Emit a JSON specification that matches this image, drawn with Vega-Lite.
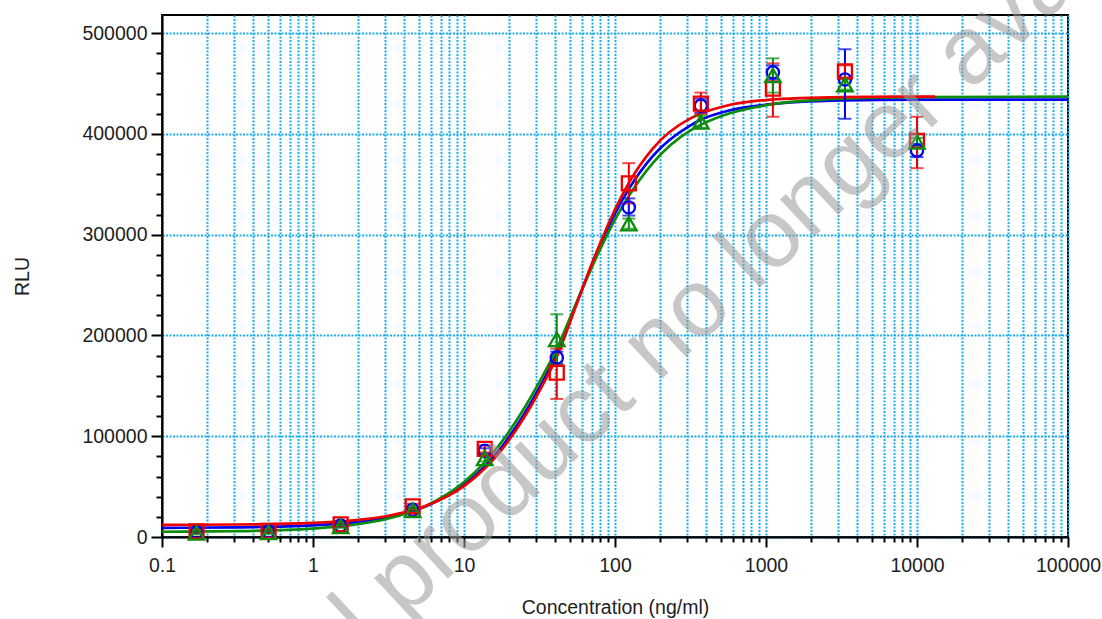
{
  "$schema": "https://vega.github.io/schema/vega-lite/v6.json",
  "autosize": {"type": "none"},
  "width": 906,
  "height": 522,
  "padding": {"left": 162, "top": 15, "right": 34, "bottom": 82},
  "background": "white",
  "config": {
    "view": {"stroke": "#000000", "strokeWidth": 2},
    "font": "Liberation Sans",
    "axis": {
      "domainColor": "#000000",
      "domainWidth": 2,
      "tickColor": "#000000",
      "tickWidth": 2,
      "labelFont": "Liberation Sans",
      "labelFontSize": 19.5,
      "labelColor": "#1e1e1e",
      "titleFont": "Liberation Sans",
      "titleFontSize": 19.5,
      "titleFontWeight": "normal",
      "titleColor": "#1e1e1e",
      "gridColor": "#19aeea",
      "gridDash": [2, 1.5],
      "gridWidth": 2
    }
  },
  "datasets": {
    "fit": [
      {"series": "Run 1", "conc": 0.1, "rlu": 9100},
      {"series": "Run 1", "conc": 0.3162, "rlu": 9600},
      {"series": "Run 1", "conc": 1, "rlu": 11500},
      {"series": "Run 1", "conc": 1.778, "rlu": 14200},
      {"series": "Run 1", "conc": 3.162, "rlu": 19600},
      {"series": "Run 1", "conc": 5.623, "rlu": 30600},
      {"series": "Run 1", "conc": 10, "rlu": 51800},
      {"series": "Run 1", "conc": 13.71, "rlu": 70100},
      {"series": "Run 1", "conc": 17.78, "rlu": 89600},
      {"series": "Run 1", "conc": 25.12, "rlu": 122400},
      {"series": "Run 1", "conc": 31.62, "rlu": 148500},
      {"series": "Run 1", "conc": 41.21, "rlu": 182000},
      {"series": "Run 1", "conc": 56.23, "rlu": 233700},
      {"series": "Run 1", "conc": 74.99, "rlu": 280400},
      {"series": "Run 1", "conc": 100, "rlu": 321000},
      {"series": "Run 1", "conc": 123.0, "rlu": 345000},
      {"series": "Run 1", "conc": 177.8, "rlu": 378000},
      {"series": "Run 1", "conc": 316.2, "rlu": 408500},
      {"series": "Run 1", "conc": 369.8, "rlu": 414000},
      {"series": "Run 1", "conc": 562.3, "rlu": 423000},
      {"series": "Run 1", "conc": 1000, "rlu": 429000},
      {"series": "Run 1", "conc": 3162, "rlu": 433200},
      {"series": "Run 1", "conc": 10000, "rlu": 434000},
      {"series": "Run 1", "conc": 100000, "rlu": 434000},

      {"series": "Run 3", "conc": 0.1, "rlu": 5200},
      {"series": "Run 3", "conc": 0.3162, "rlu": 5800},
      {"series": "Run 3", "conc": 1, "rlu": 8300},
      {"series": "Run 3", "conc": 1.778, "rlu": 11700},
      {"series": "Run 3", "conc": 3.162, "rlu": 18300},
      {"series": "Run 3", "conc": 5.623, "rlu": 31000},
      {"series": "Run 3", "conc": 10, "rlu": 54500},
      {"series": "Run 3", "conc": 13.71, "rlu": 74000},
      {"series": "Run 3", "conc": 17.78, "rlu": 94500},
      {"series": "Run 3", "conc": 25.12, "rlu": 128000},
      {"series": "Run 3", "conc": 31.62, "rlu": 154100},
      {"series": "Run 3", "conc": 41.21, "rlu": 187000},
      {"series": "Run 3", "conc": 56.23, "rlu": 234500},
      {"series": "Run 3", "conc": 74.99, "rlu": 277000},
      {"series": "Run 3", "conc": 100, "rlu": 315000},
      {"series": "Run 3", "conc": 123.0, "rlu": 338000},
      {"series": "Run 3", "conc": 177.8, "rlu": 371000},
      {"series": "Run 3", "conc": 316.2, "rlu": 403500},
      {"series": "Run 3", "conc": 369.8, "rlu": 409000},
      {"series": "Run 3", "conc": 562.3, "rlu": 420000},
      {"series": "Run 3", "conc": 1000, "rlu": 428500},
      {"series": "Run 3", "conc": 3162, "rlu": 435000},
      {"series": "Run 3", "conc": 10000, "rlu": 436600},
      {"series": "Run 3", "conc": 100000, "rlu": 437000},

      {"series": "Run 2", "conc": 0.1, "rlu": 12100},
      {"series": "Run 2", "conc": 0.3162, "rlu": 12400},
      {"series": "Run 2", "conc": 1, "rlu": 14000},
      {"series": "Run 2", "conc": 1.778, "rlu": 16300},
      {"series": "Run 2", "conc": 3.162, "rlu": 21100},
      {"series": "Run 2", "conc": 5.623, "rlu": 31000},
      {"series": "Run 2", "conc": 10, "rlu": 50500},
      {"series": "Run 2", "conc": 13.71, "rlu": 67900},
      {"series": "Run 2", "conc": 17.78, "rlu": 86700},
      {"series": "Run 2", "conc": 25.12, "rlu": 119000},
      {"series": "Run 2", "conc": 31.62, "rlu": 145100},
      {"series": "Run 2", "conc": 41.21, "rlu": 179000},
      {"series": "Run 2", "conc": 56.23, "rlu": 232800},
      {"series": "Run 2", "conc": 74.99, "rlu": 281800},
      {"series": "Run 2", "conc": 100, "rlu": 325000},
      {"series": "Run 2", "conc": 123.0, "rlu": 350900},
      {"series": "Run 2", "conc": 177.8, "rlu": 385400},
      {"series": "Run 2", "conc": 316.2, "rlu": 415400},
      {"series": "Run 2", "conc": 369.8, "rlu": 420000},
      {"series": "Run 2", "conc": 562.3, "rlu": 428400},
      {"series": "Run 2", "conc": 1000, "rlu": 433600},
      {"series": "Run 2", "conc": 3162, "rlu": 436500},
      {"series": "Run 2", "conc": 10000, "rlu": 437000},
      {"series": "Run 2", "conc": 13180, "rlu": 437000}
    ],
    "standards": [
      {"series": "Run 1", "conc": 0.1694, "rlu": 5000, "lo": 4000, "hi": 6000},
      {"series": "Run 1", "conc": 0.508, "rlu": 5500, "lo": 4500, "hi": 6500},
      {"series": "Run 1", "conc": 1.524, "rlu": 11500, "lo": 10000, "hi": 13000},
      {"series": "Run 1", "conc": 4.572, "rlu": 27000, "lo": 25000, "hi": 29000},
      {"series": "Run 1", "conc": 13.717, "rlu": 85500, "lo": 83000, "hi": 88000},
      {"series": "Run 1", "conc": 41.15, "rlu": 178000, "lo": 172000, "hi": 184000},
      {"series": "Run 1", "conc": 123.46, "rlu": 327000, "lo": 319000, "hi": 336000},
      {"series": "Run 1", "conc": 370.37, "rlu": 428000, "lo": 421000, "hi": 435000},
      {"series": "Run 1", "conc": 1111.1, "rlu": 461000, "lo": 454000, "hi": 468000},
      {"series": "Run 1", "conc": 3333.3, "rlu": 454000, "lo": 415000, "hi": 484000},
      {"series": "Run 1", "conc": 10000, "rlu": 383500, "lo": 377000, "hi": 390000},

      {"series": "Run 2", "conc": 0.1694, "rlu": 5500, "lo": 3500, "hi": 7500},
      {"series": "Run 2", "conc": 0.508, "rlu": 6000, "lo": 4000, "hi": 8000},
      {"series": "Run 2", "conc": 1.524, "rlu": 12500, "lo": 10500, "hi": 14500},
      {"series": "Run 2", "conc": 4.572, "rlu": 30500, "lo": 28000, "hi": 33000},
      {"series": "Run 2", "conc": 13.717, "rlu": 87500, "lo": 84000, "hi": 91000},
      {"series": "Run 2", "conc": 41.15, "rlu": 163000, "lo": 137000, "hi": 187000},
      {"series": "Run 2", "conc": 123.46, "rlu": 351000, "lo": 331000, "hi": 371000},
      {"series": "Run 2", "conc": 370.37, "rlu": 430000, "lo": 420000, "hi": 441000},
      {"series": "Run 2", "conc": 1111.1, "rlu": 445000, "lo": 417000, "hi": 470000},
      {"series": "Run 2", "conc": 3333.3, "rlu": 462000, "lo": 456000, "hi": 468000},
      {"series": "Run 2", "conc": 10000, "rlu": 393000, "lo": 366000, "hi": 417000},

      {"series": "Run 3", "conc": 0.1694, "rlu": 4000, "lo": 2500, "hi": 5500},
      {"series": "Run 3", "conc": 0.508, "rlu": 4500, "lo": 3000, "hi": 6000},
      {"series": "Run 3", "conc": 1.524, "rlu": 10500, "lo": 9000, "hi": 12000},
      {"series": "Run 3", "conc": 4.572, "rlu": 26500, "lo": 24500, "hi": 28500},
      {"series": "Run 3", "conc": 13.717, "rlu": 78000, "lo": 75000, "hi": 81000},
      {"series": "Run 3", "conc": 41.15, "rlu": 196000, "lo": 172000, "hi": 221000},
      {"series": "Run 3", "conc": 123.46, "rlu": 311000, "lo": 306000, "hi": 316000},
      {"series": "Run 3", "conc": 370.37, "rlu": 412000, "lo": 406000, "hi": 418000},
      {"series": "Run 3", "conc": 1111.1, "rlu": 458000, "lo": 441000, "hi": 475000},
      {"series": "Run 3", "conc": 3333.3, "rlu": 449000, "lo": 444000, "hi": 454000},
      {"series": "Run 3", "conc": 10000, "rlu": 392000, "lo": 388000, "hi": 396000}
    ],
    "stamp": [
      {"conc": 249.5, "rlu": 208300, "label": "Original product no longer available"}
    ]
  },
  "encoding": {
    "x": {
      "field": "conc",
      "type": "quantitative",
      "title": "Concentration (ng/ml)",
      "scale": {"type": "log", "domain": [0.1, 100000], "nice": false},
      "axis": {
        "values": [0.1, 0.2, 0.3, 0.4, 0.5, 0.6, 0.7, 0.8, 0.9,
                   1, 2, 3, 4, 5, 6, 7, 8, 9,
                   10, 20, 30, 40, 50, 60, 70, 80, 90,
                   100, 200, 300, 400, 500, 600, 700, 800, 900,
                   1000, 2000, 3000, 4000, 5000, 6000, 7000, 8000, 9000,
                   10000, 20000, 30000, 40000, 50000, 60000, 70000, 80000, 90000,
                   100000],
        "format": "~g",
        "labelExpr": "indexof([0.1, 1, 10, 100, 1000, 10000, 100000], datum.value) >= 0 ? datum.label : ''",
        "labelOverlap": false,
        "labelFlush": false,
        "labelPadding": 9,
        "tickSize": {"condition": {"test": "indexof([0.1, 1, 10, 100, 1000, 10000, 100000], datum.value) >= 0", "value": 10}, "value": 5},
        "grid": true,
        "titlePadding": 24
      }
    },
    "y": {
      "field": "rlu",
      "type": "quantitative",
      "title": "RLU",
      "scale": {"domain": [0, 518000], "nice": false, "zero": false},
      "axis": {
        "values": [0, 20000, 40000, 60000, 80000, 100000, 120000, 140000, 160000, 180000,
                   200000, 220000, 240000, 260000, 280000, 300000, 320000, 340000, 360000, 380000,
                   400000, 420000, 440000, 460000, 480000, 500000],
        "format": "d",
        "labelExpr": "datum.value % 100000 === 0 ? datum.label : ''",
        "labelOverlap": false,
        "labelPadding": 4,
        "tickSize": {"condition": {"test": "datum.value % 100000 === 0", "value": 11}, "value": 6},
        "grid": true,
        "gridOpacity": {"condition": {"test": "datum.value % 100000 === 0", "value": 1}, "value": 0},
        "titlePadding": 49
      }
    }
  },
  "layer": [
    {
      "data": {"name": "fit"},
      "mark": {"type": "line", "strokeWidth": 2.7, "interpolate": "monotone", "clip": true},
      "encoding": {
        "color": {
          "field": "series",
          "type": "nominal",
          "scale": {"domain": ["Run 1", "Run 2", "Run 3"], "range": ["#0000ee", "#ee0000", "#0c8c0c"]},
          "legend": null
        }
      }
    },
    {
      "data": {"name": "standards"},
      "transform": [{"fold": ["lo", "hi"], "as": ["end", "rlu"]}],
      "mark": {"type": "line", "strokeWidth": 2},
      "encoding": {
        "color": {"field": "series", "type": "nominal", "legend": null},
        "detail": {"field": "conc", "type": "nominal"}
      }
    },
    {
      "data": {"name": "standards"},
      "transform": [{"fold": ["lo", "hi"], "as": ["end", "rlu"]}],
      "mark": {"type": "tick", "orient": "horizontal", "size": 13, "thickness": 2},
      "encoding": {
        "color": {"field": "series", "type": "nominal", "legend": null}
      }
    },
    {
      "data": {"name": "standards"},
      "mark": {"type": "point", "filled": false, "strokeWidth": 2.3, "opacity": 1},
      "encoding": {
        "color": {"field": "series", "type": "nominal", "legend": null},
        "shape": {
          "field": "series",
          "type": "nominal",
          "scale": {"domain": ["Run 1", "Run 2", "Run 3"], "range": ["circle", "square", "triangle-up"]},
          "legend": null
        },
        "size": {
          "field": "series",
          "type": "nominal",
          "scale": {"domain": ["Run 1", "Run 2", "Run 3"], "range": [150, 240, 250]},
          "legend": null
        }
      }
    },
    {
      "data": {"name": "stamp"},
      "mark": {
        "type": "text",
        "angle": 317,
        "align": "center",
        "baseline": "middle",
        "font": "Liberation Sans",
        "fontSize": 96,
        "fill": "#9a9a9a",
        "opacity": 0.55
      },
      "encoding": {
        "text": {"field": "label", "type": "nominal"}
      }
    }
  ]
}
